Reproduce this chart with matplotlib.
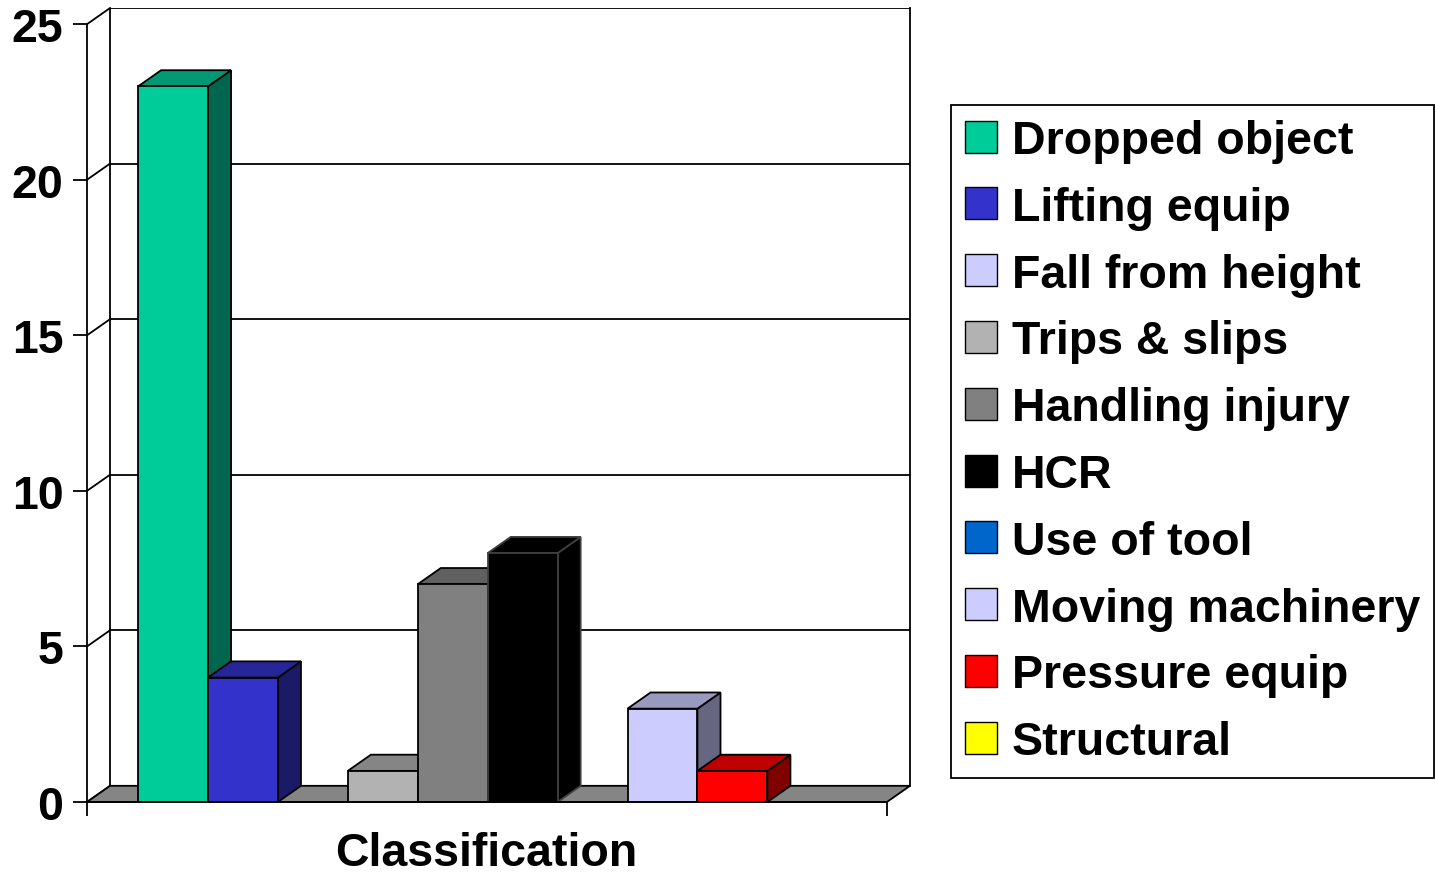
import matplotlib
matplotlib.use('Agg')
import matplotlib.pyplot as plt
import matplotlib.colors as mcolors
from matplotlib.patches import Polygon, Rectangle, Patch

# data
categories = ['Dropped object', 'Lifting equip', 'Fall from height', 'Trips & slips',
              'Handling injury', 'HCR', 'Use of tool', 'Moving machinery',
              'Pressure equip', 'Structural']
counts = [23, 4, 0, 1, 7, 8, 0, 3, 1, 0]
colors = ['#00CC99', '#3333CC', '#CCCCFF', '#B2B2B2', '#808080', '#000000',
          '#0066CC', '#CCCCFF', '#FF0000', '#FFFF00']
y_ticks = [0, 5, 10, 15, 20, 25]
x_label = 'Classification'

plt.rcParams['font.family'] = ['Liberation Sans', 'DejaVu Sans']
plt.rcParams['font.weight'] = 'bold'

# depth of the 3d look (in data units) and padding of the category axis
DX, DY = 0.33, 0.52
PAD_L, PAD_R = 0.73, 0.71
LW = 1.3
FS = 33.5
n = len(categories)
x0, x1 = -PAD_L, n + PAD_R
ymax = y_ticks[-1]


def shade(c, f):
    r, g, b = mcolors.to_rgb(c)
    return (r * f, g * f, b * f)


fig = plt.figure(figsize=(14.35, 8.78), dpi=100)
ax = fig.add_axes([87 / 1435, 1 - 803 / 878, 823 / 1435, 794 / 878])
ax.set_xlim(x0, x1 + DX)
ax.set_ylim(0, ymax + DY)

# back wall + gridlines
for k in y_ticks:
    ax.plot([x0 + DX, x1 + DX], [k + DY, k + DY], color='black', lw=LW, zorder=1)
    ax.plot([x0, x0 + DX], [k, k + DY], color='black', lw=LW, zorder=1, clip_on=False)
ax.plot([x0 + DX, x0 + DX], [DY, ymax + DY], color='black', lw=LW, zorder=1)
ax.plot([x1 + DX, x1 + DX], [DY, ymax + DY], color='black', lw=LW, zorder=1, clip_on=False)

# floor
floor = Polygon([(x0, 0), (x1, 0), (x1 + DX, DY), (x0 + DX, DY)], closed=True,
                facecolor='#858585', edgecolor='black', lw=LW, zorder=2, clip_on=False)
ax.add_patch(floor)

# bars
for i, (v, c) in enumerate(zip(counts, colors)):
    if v <= 0:
        continue
    ec = 'black' if c != '#000000' else '#404040'
    front = Rectangle((i, 0), 1, v, facecolor=c, edgecolor=ec, lw=LW, zorder=3)
    top = Polygon([(i, v), (i + 1, v), (i + 1 + DX, v + DY), (i + DX, v + DY)],
                  closed=True, facecolor=shade(c, 0.75), edgecolor=ec, lw=LW, zorder=3)
    side = Polygon([(i + 1, 0), (i + 1 + DX, DY), (i + 1 + DX, v + DY), (i + 1, v)],
                   closed=True, facecolor=shade(c, 0.5), edgecolor=ec, lw=LW, zorder=3)
    ax.add_patch(side)
    ax.add_patch(top)
    ax.add_patch(front)

# axes
for s in ['top', 'right']:
    ax.spines[s].set_visible(False)
ax.spines['left'].set_bounds(0, ymax)
ax.spines['bottom'].set_bounds(x0, x1)
ax.spines['left'].set_linewidth(LW)
ax.spines['bottom'].set_linewidth(LW)
ax.spines['bottom'].set_zorder(4)
ax.set_yticks(y_ticks)
ax.set_yticklabels([str(t) for t in y_ticks], fontsize=FS, fontweight='bold')
ax.tick_params(axis='y', length=10, width=LW, pad=7)
ax.set_xticks([x0, x1])
ax.set_xticklabels(['', ''])
ax.tick_params(axis='x', length=10, width=LW)
ax.set_xlabel(x_label, fontsize=FS, fontweight='bold')
ax.xaxis.set_label_coords((486 - 87) / 823, -0.036)
ax.patch.set_visible(False)

# legend
handles = [Patch(facecolor=c, edgecolor='black', lw=1.0) for c in colors]
leg = fig.legend(handles, categories, loc='upper left',
                 bbox_to_anchor=(951 / 1435, 1 - 106 / 878),
                 bbox_transform=fig.transFigure, borderaxespad=0,
                 prop={'size': FS, 'weight': 'bold'},
                 handlelength=0.68, handleheight=0.68, handletextpad=0.33,
                 labelspacing=0.49, borderpad=0.3, fancybox=False, framealpha=1,
                 edgecolor='black')
leg.get_frame().set_linewidth(LW)

fig.savefig('out.png', dpi=100)
